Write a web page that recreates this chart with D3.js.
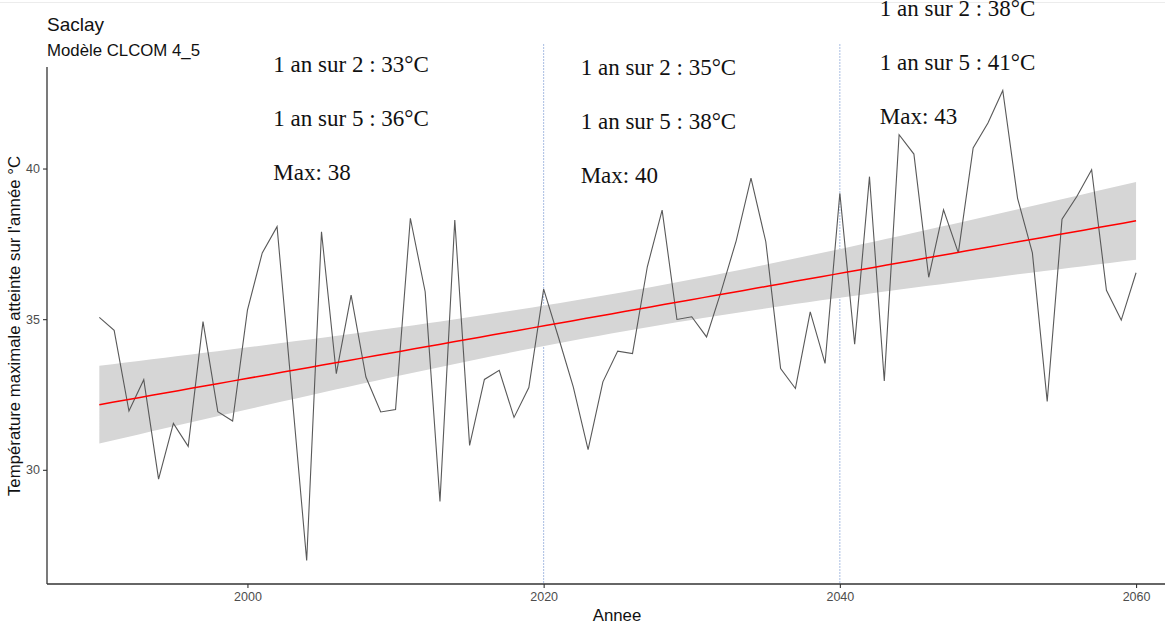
<!DOCTYPE html>
<html lang="fr">
<head>
<meta charset="utf-8">
<script src="https://cdn.jsdelivr.net/npm/d3@7"></script>
<style>
  html, body { margin: 0; padding: 0; background: #fff; }
  svg { display: block; }
</style>
</head>
<body>
<svg id="chart" width="1165" height="627"></svg>
<script>
// Annual maximum temperature at Saclay, CLCOM 4_5 projection
const years = d3.range(1990, 2061);
const tmax = [
  35.06, 34.63, 31.95, 32.99, 29.69, 31.54, 30.78, 34.92, 31.93, 31.62,
  35.30, 37.20, 38.07, 32.55, 26.99, 37.90, 33.19, 35.80, 33.08, 31.92,
  32.00, 38.35, 35.91, 28.95, 38.29, 30.81, 33.00, 33.30, 31.74, 32.73,
  36.00, 34.40, 32.75, 30.67, 32.92, 33.94, 33.86, 36.74, 38.62, 34.99,
  35.08, 34.41, 35.95, 37.60, 39.68, 37.57, 33.36, 32.70, 35.24, 33.53,
  39.18, 34.17, 39.73, 32.95, 41.12, 40.48, 36.39, 38.63, 37.20, 40.68,
  41.51, 42.59, 39.01, 37.20, 32.27, 38.32, 39.07, 39.96, 35.96, 34.97,
  36.54
];
const xTicks = [2000, 2020, 2040, 2060];
const yTicks = [30, 35, 40];
const periodBreaks = [2020, 2040];

// Return-period annotations per 20-year window
const periodLabels = [
  { year: 2001.75, lines: ["1 an sur 2 : 33°C", "1 an sur 5 : 36°C", "Max: 38"], top: 71.5 },
  { year: 2022.5, lines: ["1 an sur 2 : 35°C", "1 an sur 5 : 38°C", "Max: 40"], top: 75 },
  { year: 2042.7, lines: ["1 an sur 2 : 38°C", "1 an sur 5 : 41°C", "Max: 43"], top: 16 }
];

const svg = d3.select("#chart");
const sans = "'Liberation Sans', Arial, sans-serif";
const serif = "'Liberation Serif', 'DejaVu Serif', serif";

// Panel: 5% expansion around the data, as the plotting defaults do
const xExt = d3.extent(years), yExt = d3.extent(tmax);
const xPad = (xExt[1] - xExt[0]) * 0.05, yPad = (yExt[1] - yExt[0]) * 0.05;
const x = d3.scaleLinear().domain([xExt[0] - xPad, xExt[1] + xPad]).range([47.5, 1187.9]);
const y = d3.scaleLinear().domain([yExt[0] - yPad, yExt[1] + yPad]).range([584, 67]);

// Linear trend with 95% confidence band
const n = years.length;
const mx = d3.mean(years), my = d3.mean(tmax);
const sxx = d3.sum(years, v => (v - mx) ** 2);
const sxy = d3.sum(years, (v, i) => (v - mx) * (tmax[i] - my));
const slope = sxy / sxx, intercept = my - slope * mx;
const resid = tmax.map((v, i) => v - (intercept + slope * years[i]));
const s = Math.sqrt(d3.sum(resid, r => r * r) / (n - 2));
const tq = 1.9949; // t(0.975, df = 69)
const fitYears = d3.range(80).map(k => xExt[0] + (xExt[1] - xExt[0]) * k / 79);
const fit = fitYears.map(v => {
  const f = intercept + slope * v;
  const se = s * Math.sqrt(1 / n + (v - mx) ** 2 / sxx);
  return { x: v, f, lo: f - tq * se, hi: f + tq * se };
});

// faint frame line along the top
svg.append("line").attr("x1", 0).attr("x2", 1165).attr("y1", 2.5).attr("y2", 2.5)
  .attr("stroke", "#ececec").attr("stroke-width", 1);

// period separators
svg.append("g").selectAll("line").data(periodBreaks).join("line")
  .attr("x1", d => x(d)).attr("x2", d => x(d))
  .attr("y1", 44).attr("y2", 584)
  .attr("stroke", "#a9bde2").attr("stroke-width", 1)
  .attr("stroke-dasharray", "2,1");

// confidence band
svg.append("path").datum(fit)
  .attr("fill", "#d6d6d6")
  .attr("d", d3.area().x(d => x(d.x)).y0(d => y(d.lo)).y1(d => y(d.hi)));

// observed series
svg.append("path").datum(years.map((v, i) => [v, tmax[i]]))
  .attr("fill", "none").attr("stroke", "#595959").attr("stroke-width", 1.1)
  .attr("stroke-linejoin", "miter")
  .attr("d", d3.line().x(d => x(d[0])).y(d => y(d[1])));

// trend line
svg.append("path").datum(fit)
  .attr("fill", "none").attr("stroke", "#ff0000").attr("stroke-width", 1.5)
  .attr("d", d3.line().x(d => x(d.x)).y(d => y(d.f)));

// axes
const xAxis = svg.append("g").attr("transform", "translate(0,584)")
  .call(d3.axisBottom(x).tickValues(xTicks).tickFormat(d3.format("d")).tickSize(4).tickPadding(4));
xAxis.select(".domain").attr("d", "M47,0H1165").attr("stroke", "#333").attr("stroke-width", 1.3);
xAxis.selectAll(".tick line").attr("stroke", "#333").attr("stroke-width", 1.1);
xAxis.selectAll(".tick text").attr("fill", "#4d4d4d").style("font", `12.5px ${sans}`);

const yAxis = svg.append("g").attr("transform", "translate(47,0)")
  .call(d3.axisLeft(y).tickValues(yTicks).tickSize(4).tickPadding(3));
yAxis.select(".domain").attr("d", "M0,67V584").attr("stroke", "#333").attr("stroke-width", 1.3);
yAxis.selectAll(".tick line").attr("stroke", "#333").attr("stroke-width", 1.1);
yAxis.selectAll(".tick text").attr("fill", "#4d4d4d").style("font", `12.5px ${sans}`);

// titles
svg.append("text").attr("x", 47).attr("y", 31).attr("fill", "#111")
  .style("font", `19px ${sans}`).text("Saclay");
svg.append("text").attr("x", 47).attr("y", 56).attr("fill", "#111")
  .style("font", `16.8px ${sans}`).text("Modèle CLCOM 4_5");
svg.append("text").attr("x", 617).attr("y", 621).attr("text-anchor", "middle")
  .attr("fill", "#111").style("font", `16.8px ${sans}`).text("Annee");
svg.append("text")
  .attr("transform", "translate(20,326) rotate(-90)")
  .attr("text-anchor", "middle").attr("fill", "#111")
  .style("font", `16.8px ${sans}`)
  .text("Température maximale atteinte sur l'année °C");

// return-period annotations
const ann = svg.append("g").selectAll("g").data(periodLabels).join("g");
ann.selectAll("text").data(d => d.lines.map((t, i) => ({ t, i, d }))).join("text")
  .attr("x", e => x(e.d.year))
  .attr("y", e => e.d.top + e.i * 54)
  .attr("fill", "#111")
  .style("font", `23px ${serif}`)
  .text(e => e.t);
</script>
</body>
</html>
